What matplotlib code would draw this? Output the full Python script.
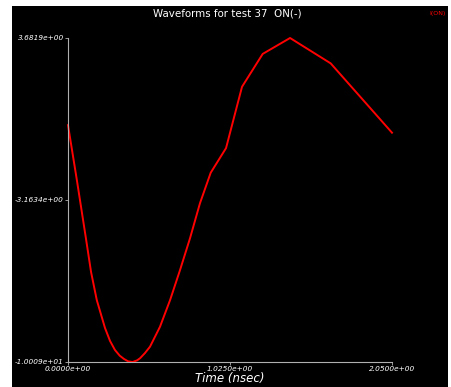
import numpy as np
import matplotlib
matplotlib.use("Agg")
import matplotlib.pyplot as plt
from matplotlib.patches import Rectangle

# waveform I(ON), time in nsec
time = [0.0, 0.057, 0.114, 0.146, 0.182, 0.234, 0.266, 0.297, 0.327,
        0.354, 0.380, 0.409, 0.437, 0.456, 0.487, 0.519, 0.582, 0.646,
        0.709, 0.772, 0.835, 0.903, 1.0, 1.101, 1.232, 1.405, 1.662, 2.05]
current = [0.0, -2.36, -4.81, -6.21, -7.39, -8.57, -9.12, -9.50, -9.74,
           -9.88, -9.98, -10.009, -9.94, -9.85, -9.63, -9.36, -8.52, -7.39,
           -6.12, -4.78, -3.30, -2.01, -0.97, 1.62, 3.01, 3.6819, 2.61, -0.32]

xticks = [0.0, 1.025, 2.05]
xtick_labels = ['0.0000e+00', '1.0250e+00', '2.0500e+00']
yticks = [3.6819, -3.1634, -10.009]
ytick_labels = ['3.6819e+00', '-3.1634e+00', '-1.0009e+01']

W, H = 452, 387
fig = plt.figure(figsize=(W / 100, H / 100), dpi=100)
fig.patch.set_facecolor('white')
# black panel behind everything
fig.patches.append(Rectangle((12 / W, 0), (448 - 12) / W, 1 - 6 / H,
                             transform=fig.transFigure, facecolor='black',
                             edgecolor='none', zorder=-5))

ax = fig.add_axes([68 / W, 1 - 362 / H, (392 - 68) / W, (362 - 38) / H])
ax.set_facecolor('black')
ax.plot(time, current, color='#ff0000', lw=1.4, solid_joinstyle='round',
        clip_on=False)

ax.set_xlim(0, 2.05)
ax.set_ylim(-10.009, 3.6819)
ax.set_xticks(xticks)
ax.set_xticklabels(xtick_labels)
ax.set_yticks(yticks)
ax.set_yticklabels(ytick_labels)

for s in ['top', 'right']:
    ax.spines[s].set_visible(False)
for s in ['left', 'bottom']:
    ax.spines[s].set_color('#b0b0b0')
    ax.spines[s].set_linewidth(0.8)
ax.tick_params(colors='#b0b0b0', length=2, width=0.6, pad=1)
for lab in ax.get_xticklabels() + ax.get_yticklabels():
    lab.set_color('white')
    lab.set_fontsize(5.3)
    lab.set_fontstyle('italic')

ax.set_xlabel('Time (nsec)', color='white', fontsize=8.5, style='italic',
              labelpad=0)
fig.text(227 / W, 1 - 14 / H, 'Waveforms for test 37  ON(-)', color='white',
         fontsize=7.4, ha='center', va='center')
fig.text(446 / W, 1 - 13 / H, 'I(ON)', color='#ff0000', fontsize=4.5,
         ha='right', va='center')

fig.savefig('out.png', dpi=100, facecolor=fig.get_facecolor())
